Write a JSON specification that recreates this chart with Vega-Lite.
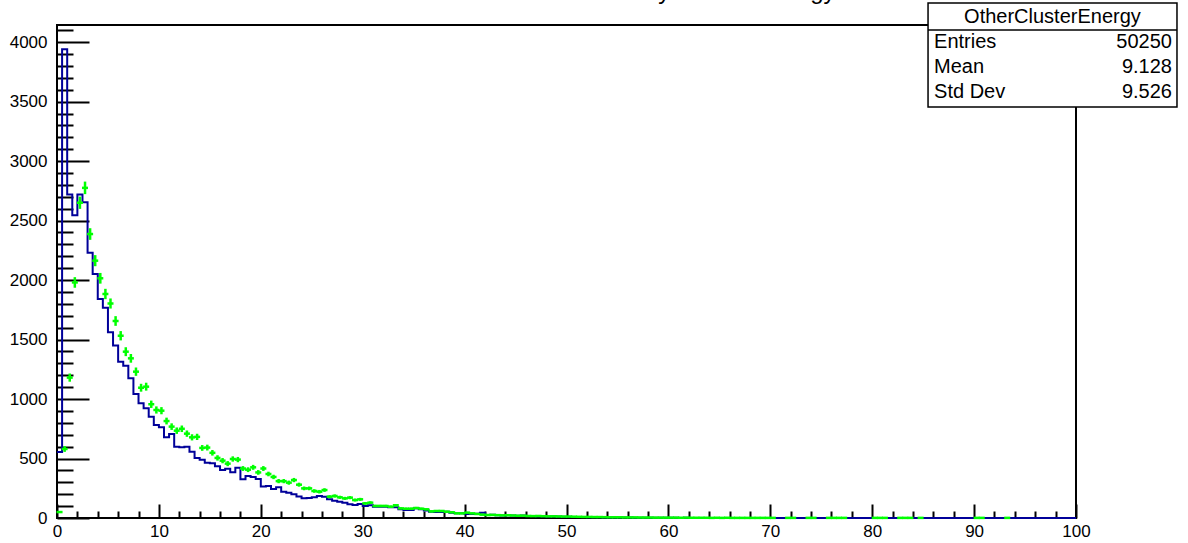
{
"$schema": "https://vega.github.io/schema/vega-lite/v6.json",
"width": 1019, "height": 493,
"autosize": {"type": "none"},
"padding": {"left": 57, "top": 25, "right": 112, "bottom": 25},
"background": "white",
"config": {"view": {"stroke": "black", "strokeWidth": 2}, "font": "Liberation Sans"},
"title": {"text": "Secondary Cluster Energy", "fontSize": 24, "font": "Liberation Sans", "fontWeight": "normal", "color": "black", "anchor": "middle", "frame": "group", "baseline": "alphabetic", "offset": 0, "dx": 129, "dy": 21},
"datasets": {
"hist": [
{"x":0,"n":555},{"x":0.5,"n":3940},{"x":1,"n":2720},{"x":1.5,"n":2545},{"x":2,"n":2720},{"x":2.5,"n":2654},{"x":3,"n":2230},{"x":3.5,"n":2050},{"x":4,"n":1840},{"x":4.5,"n":1768},
{"x":5,"n":1561},{"x":5.5,"n":1449},{"x":6,"n":1314},{"x":6.5,"n":1280},{"x":7,"n":1174},{"x":7.5,"n":1042},{"x":8,"n":964},{"x":8.5,"n":922},{"x":9,"n":851},{"x":9.5,"n":782},
{"x":10,"n":762},{"x":10.5,"n":678},{"x":11,"n":706},{"x":11.5,"n":599},{"x":12,"n":594},{"x":12.5,"n":599},{"x":13,"n":557},{"x":13.5,"n":505},{"x":14,"n":490},{"x":14.5,"n":465},
{"x":15,"n":460},{"x":15.5,"n":435},{"x":16,"n":403},{"x":16.5,"n":413},{"x":17,"n":385},{"x":17.5,"n":422},{"x":18,"n":326},{"x":18.5,"n":354},{"x":19,"n":345},{"x":19.5,"n":328},
{"x":20,"n":265},{"x":20.5,"n":270},{"x":21,"n":243},{"x":21.5,"n":258},{"x":22,"n":220},{"x":22.5,"n":213},{"x":23,"n":200},{"x":23.5,"n":180},{"x":24,"n":165},{"x":24.5,"n":168},
{"x":25,"n":174},{"x":25.5,"n":185},{"x":26,"n":179},{"x":26.5,"n":157},{"x":27,"n":146},{"x":27.5,"n":137},{"x":28,"n":129},{"x":28.5,"n":115},{"x":29,"n":109},{"x":29.5,"n":118},
{"x":30,"n":101},{"x":30.5,"n":107},{"x":31,"n":95},{"x":31.5,"n":95},{"x":32,"n":95},{"x":32.5,"n":90},{"x":33,"n":90},{"x":33.5,"n":73},{"x":34,"n":67},{"x":34.5,"n":67},
{"x":35,"n":81},{"x":35.5,"n":73},{"x":36,"n":62},{"x":36.5,"n":53},{"x":37,"n":50},{"x":37.5,"n":50},{"x":38,"n":53},{"x":38.5,"n":45},{"x":39,"n":39},{"x":39.5,"n":39},
{"x":40,"n":34},{"x":40.5,"n":34},{"x":41,"n":36},{"x":41.5,"n":45},{"x":42,"n":25},{"x":42.5,"n":28},{"x":43,"n":24},{"x":43.5,"n":22},{"x":44,"n":24},{"x":44.5,"n":20},
{"x":45,"n":19},{"x":45.5,"n":20},{"x":46,"n":17},{"x":46.5,"n":17},{"x":47,"n":15},{"x":47.5,"n":15},{"x":48,"n":13},{"x":48.5,"n":14},{"x":49,"n":12},{"x":49.5,"n":11},
{"x":50,"n":10},{"x":50.5,"n":9},{"x":51,"n":8},{"x":51.5,"n":8},{"x":52,"n":7},{"x":52.5,"n":6},{"x":53,"n":6},{"x":53.5,"n":5},{"x":54,"n":5},{"x":54.5,"n":5},
{"x":55,"n":4},{"x":55.5,"n":4},{"x":56,"n":4},{"x":56.5,"n":3},{"x":57,"n":3},{"x":57.5,"n":3},{"x":58,"n":3},{"x":58.5,"n":2},{"x":59,"n":2},{"x":59.5,"n":2},
{"x":60,"n":2},{"x":60.5,"n":2},{"x":61,"n":1},{"x":61.5,"n":2},{"x":62,"n":1},{"x":62.5,"n":1},{"x":63,"n":1},{"x":63.5,"n":1},{"x":64,"n":0},{"x":64.5,"n":1},
{"x":65,"n":1},{"x":65.5,"n":0},{"x":66,"n":1},{"x":66.5,"n":0},{"x":67,"n":0},{"x":67.5,"n":1},{"x":68,"n":0},{"x":68.5,"n":0},{"x":69,"n":0},{"x":69.5,"n":0},
{"x":70,"n":0},{"x":70.5,"n":0},{"x":71,"n":1},{"x":71.5,"n":0},{"x":72,"n":0},{"x":72.5,"n":0},{"x":73,"n":0},{"x":73.5,"n":0},{"x":74,"n":0},{"x":74.5,"n":1},
{"x":75,"n":0},{"x":75.5,"n":0},{"x":76,"n":0},{"x":76.5,"n":0},{"x":77,"n":0},{"x":77.5,"n":0},{"x":78,"n":0},{"x":78.5,"n":0},{"x":79,"n":0},{"x":79.5,"n":0},
{"x":80,"n":0},{"x":80.5,"n":0},{"x":81,"n":0},{"x":81.5,"n":0},{"x":82,"n":1},{"x":82.5,"n":0},{"x":83,"n":0},{"x":83.5,"n":0},{"x":84,"n":0},{"x":84.5,"n":0},
{"x":85,"n":0},{"x":85.5,"n":0},{"x":86,"n":0},{"x":86.5,"n":0},{"x":87,"n":0},{"x":87.5,"n":0},{"x":88,"n":0},{"x":88.5,"n":0},{"x":89,"n":0},{"x":89.5,"n":0},
{"x":90,"n":0},{"x":90.5,"n":0},{"x":91,"n":0},{"x":91.5,"n":0},{"x":92,"n":0},{"x":92.5,"n":0},{"x":93,"n":0},{"x":93.5,"n":0},{"x":94,"n":0},{"x":94.5,"n":0},
{"x":95,"n":0},{"x":95.5,"n":0},{"x":96,"n":0},{"x":96.5,"n":0},{"x":97,"n":0},{"x":97.5,"n":0},{"x":98,"n":0},{"x":98.5,"n":0},{"x":99,"n":0},{"x":99.5,"n":0},
{"x":100,"n":0}
],
"green": [
{"x":0.25,"n":50},{"x":0.75,"n":580},{"x":1.25,"n":1180},{"x":1.75,"n":1980},{"x":2.25,"n":2650},{"x":2.75,"n":2775},{"x":3.25,"n":2387},{"x":3.75,"n":2163},{"x":4.25,"n":2015},{"x":4.75,"n":1883},
{"x":5.25,"n":1803},{"x":5.75,"n":1656},{"x":6.25,"n":1532},{"x":6.75,"n":1398},{"x":7.25,"n":1342},{"x":7.75,"n":1230},{"x":8.25,"n":1095},{"x":8.75,"n":1104},{"x":9.25,"n":956},{"x":9.75,"n":908},
{"x":10.25,"n":902},{"x":10.75,"n":815},{"x":11.25,"n":768},{"x":11.75,"n":734},{"x":12.25,"n":750},{"x":12.75,"n":709},{"x":13.25,"n":678},{"x":13.75,"n":682},{"x":14.25,"n":589},{"x":14.75,"n":592},
{"x":15.25,"n":548},{"x":15.75,"n":505},{"x":16.25,"n":482},{"x":16.75,"n":457},{"x":17.25,"n":496},{"x":17.75,"n":491},{"x":18.25,"n":416},{"x":18.75,"n":406},{"x":19.25,"n":426},{"x":19.75,"n":383},
{"x":20.25,"n":416},{"x":20.75,"n":370},{"x":21.25,"n":345},{"x":21.75,"n":310},{"x":22.25,"n":310},{"x":22.75,"n":297},{"x":23.25,"n":319},{"x":23.75,"n":280},{"x":24.25,"n":249},{"x":24.75,"n":249},
{"x":25.25,"n":227},{"x":25.75,"n":221},{"x":26.25,"n":235},{"x":26.75,"n":179},{"x":27.25,"n":185},{"x":27.75,"n":174},{"x":28.25,"n":165},{"x":28.75,"n":171},{"x":29.25,"n":151},{"x":29.75,"n":157},
{"x":30.25,"n":123},{"x":30.75,"n":129},{"x":31.25,"n":101},{"x":31.75,"n":101},{"x":32.25,"n":101},{"x":32.75,"n":95},{"x":33.25,"n":107},{"x":33.75,"n":81},{"x":34.25,"n":78},{"x":34.75,"n":78},
{"x":35.25,"n":84},{"x":35.75,"n":78},{"x":36.25,"n":73},{"x":36.75,"n":56},{"x":37.25,"n":59},{"x":37.75,"n":59},{"x":38.25,"n":53},{"x":38.75,"n":48},{"x":39.25,"n":39},{"x":39.75,"n":39},
{"x":40.25,"n":45},{"x":40.75,"n":39},{"x":41.25,"n":34},{"x":41.75,"n":28},{"x":42.25,"n":25},{"x":42.75,"n":26},{"x":43.25,"n":24},{"x":43.75,"n":22},{"x":44.25,"n":23},{"x":44.75,"n":21},
{"x":45.25,"n":19},{"x":45.75,"n":20},{"x":46.25,"n":17},{"x":46.75,"n":16},{"x":47.25,"n":17},{"x":47.75,"n":15},{"x":48.25,"n":14},{"x":48.75,"n":14},{"x":49.25,"n":13},{"x":49.75,"n":12},
{"x":50.25,"n":12},{"x":50.75,"n":11},{"x":51.25,"n":10},{"x":51.75,"n":9},{"x":52.25,"n":9},{"x":52.75,"n":8},{"x":53.25,"n":8},{"x":53.75,"n":7},{"x":54.25,"n":6},{"x":54.75,"n":6},
{"x":55.25,"n":6},{"x":55.75,"n":5},{"x":56.25,"n":5},{"x":56.75,"n":5},{"x":57.25,"n":4},{"x":57.75,"n":4},{"x":58.25,"n":4},{"x":58.75,"n":3},{"x":59.25,"n":3},{"x":59.75,"n":3},
{"x":60.25,"n":3},{"x":60.75,"n":3},{"x":61.25,"n":2},{"x":61.75,"n":3},{"x":62.25,"n":2},{"x":62.75,"n":2},{"x":63.25,"n":2},{"x":63.75,"n":2},{"x":64.25,"n":1},{"x":64.75,"n":2},
{"x":65.25,"n":1},{"x":65.75,"n":2},{"x":66.25,"n":1},{"x":66.75,"n":1},{"x":67.25,"n":1},{"x":67.75,"n":1},{"x":68.25,"n":1},{"x":68.75,"n":1},{"x":69.25,"n":1},{"x":69.75,"n":1},
{"x":70.25,"n":1},{"x":71.75,"n":1},{"x":72.25,"n":1},{"x":73.75,"n":1},{"x":74.25,"n":1},{"x":75.75,"n":1},{"x":76.25,"n":1},{"x":76.75,"n":1},{"x":77.25,"n":1},
{"x":80.25,"n":1},{"x":80.75,"n":1},{"x":81.25,"n":1},{"x":82.75,"n":1},{"x":83.25,"n":1},{"x":83.75,"n":1},{"x":84.75,"n":1},{"x":90.25,"n":1},{"x":90.75,"n":1},{"x":93.25,"n":1}
],
"stats": [
{"stat":"OtherClusterEnergy","value":""},
{"stat":"Entries","value":"50250"},
{"stat":"Mean","value":"9.128"},
{"stat":"Std Dev","value":"9.526"}
]
},
"layer": [
{
"layer": [
{"data": {"name": "hist"},
 "mark": {"type": "line", "interpolate": "step-after", "color": "#000099", "strokeWidth": 2},
 "encoding": {
  "x": {"field": "x", "type": "quantitative", "scale": {"domain": [0, 100], "nice": false, "zero": false},
   "axis": {"values": [0,2,4,6,8,10,12,14,16,18,20,22,24,26,28,30,32,34,36,38,40,42,44,46,48,50,52,54,56,58,60,62,64,66,68,70,72,74,76,78,80,82,84,86,88,90,92,94,96,98,100],
    "tickCount": 1000, "format": "d",
    "tickSize": {"condition": {"test": "datum.value % 10 === 0", "value": -14}, "value": -7},
    "labelExpr": "datum.value % 10 === 0 ? datum.label : ''",
    "labelPadding": 19, "domain": false, "grid": false, "title": null, "tickColor": "black", "tickWidth": 2,
    "labelFontSize": 17, "labelColor": "black", "labelFont": "Liberation Sans", "labelFlush": false, "labelOverlap": false, "labelBaseline": "top"}},
  "y": {"field": "n", "type": "quantitative", "scale": {"domain": [0, 4144], "nice": false, "zero": true},
   "axis": {"values": [0,100,200,300,400,500,600,700,800,900,1000,1100,1200,1300,1400,1500,1600,1700,1800,1900,2000,2100,2200,2300,2400,2500,2600,2700,2800,2900,3000,3100,3200,3300,3400,3500,3600,3700,3800,3900,4000,4100],
    "tickCount": 1000,
    "tickSize": {"condition": {"test": "datum.value % 500 === 0", "value": -32}, "value": -16},
    "labelExpr": "datum.value % 500 === 0 ? datum.label : ''",
    "labelPadding": 42, "domain": false, "grid": false, "title": null, "tickColor": "black", "tickWidth": 2,
    "labelFontSize": 17, "labelColor": "black", "labelFont": "Liberation Sans", "labelFlush": false, "labelOverlap": false, "labelBaseline": "middle", "format": "d"}}
 }},
{"data": {"name": "green"},
 "mark": {"type": "tick", "orient": "vertical", "color": "#00ff00", "thickness": 2.5, "opacity": 1},
 "encoding": {
  "x": {"field": "x", "type": "quantitative", "scale": {"domain": [0, 100], "nice": false, "zero": false}},
  "y": {"field": "n", "type": "quantitative", "scale": {"domain": [0, 4144], "nice": false, "zero": true}},
  "size": {"field": "n", "type": "quantitative", "scale": {"type": "sqrt", "domain": [0, 2800], "range": [0, 12.6]}, "legend": null}
 }},
{"data": {"name": "green"},
 "mark": {"type": "tick", "orient": "horizontal", "color": "#00ff00", "thickness": 2.5, "size": 6, "opacity": 1},
 "encoding": {
  "x": {"field": "x", "type": "quantitative", "scale": {"domain": [0, 100], "nice": false, "zero": false}},
  "y": {"field": "n", "type": "quantitative", "scale": {"domain": [0, 4144], "nice": false, "zero": true}}
 }},
{"data": {"values": [{}]},
 "mark": {"type": "rect", "fill": "white", "stroke": "black", "strokeWidth": 1.5},
 "encoding": {
  "x": {"datum": 85.48, "type": "quantitative"},
  "x2": {"datum": 109.91},
  "y": {"datum": 4329, "type": "quantitative"},
  "y2": {"datum": 3455}
 }},
{"data": {"values": [{}]},
 "mark": {"type": "rule", "color": "black", "strokeWidth": 1.5},
 "encoding": {
  "x": {"datum": 85.48, "type": "quantitative"},
  "x2": {"datum": 109.91},
  "y": {"datum": 4102, "type": "quantitative"}
 }}
]
},
{
"data": {"name": "stats"},
"layer": [
{"transform": [{"filter": "datum.stat === 'OtherClusterEnergy'"}],
 "mark": {"type": "text", "align": "center", "baseline": "middle", "fontSize": 20, "font": "Liberation Sans", "color": "black"},
 "encoding": {
  "x": {"datum": 97.69, "type": "quantitative"},
  "y": {"field": "stat", "type": "nominal", "scale": {"type": "point", "domain": ["OtherClusterEnergy", "Entries", "Mean", "Std Dev"], "range": [-8, 67], "padding": 0}, "axis": null},
  "text": {"field": "stat"}
 }},
{"transform": [{"filter": "datum.stat !== 'OtherClusterEnergy'"}],
 "mark": {"type": "text", "align": "left", "baseline": "middle", "fontSize": 20, "font": "Liberation Sans", "color": "black"},
 "encoding": {
  "x": {"datum": 86.07, "type": "quantitative"},
  "y": {"field": "stat", "type": "nominal", "scale": {"type": "point", "domain": ["OtherClusterEnergy", "Entries", "Mean", "Std Dev"], "range": [-8, 67], "padding": 0}, "axis": null},
  "text": {"field": "stat"}
 }},
{"transform": [{"filter": "datum.stat !== 'OtherClusterEnergy'"}],
 "mark": {"type": "text", "align": "right", "baseline": "middle", "fontSize": 20, "font": "Liberation Sans", "color": "black"},
 "encoding": {
  "x": {"datum": 109.42, "type": "quantitative"},
  "y": {"field": "stat", "type": "nominal", "scale": {"type": "point", "domain": ["OtherClusterEnergy", "Entries", "Mean", "Std Dev"], "range": [-8, 67], "padding": 0}, "axis": null},
  "text": {"field": "value"}
 }}
]
}
],
"resolve": {"scale": {"y": "independent"}, "axis": {"y": "independent"}}
}
